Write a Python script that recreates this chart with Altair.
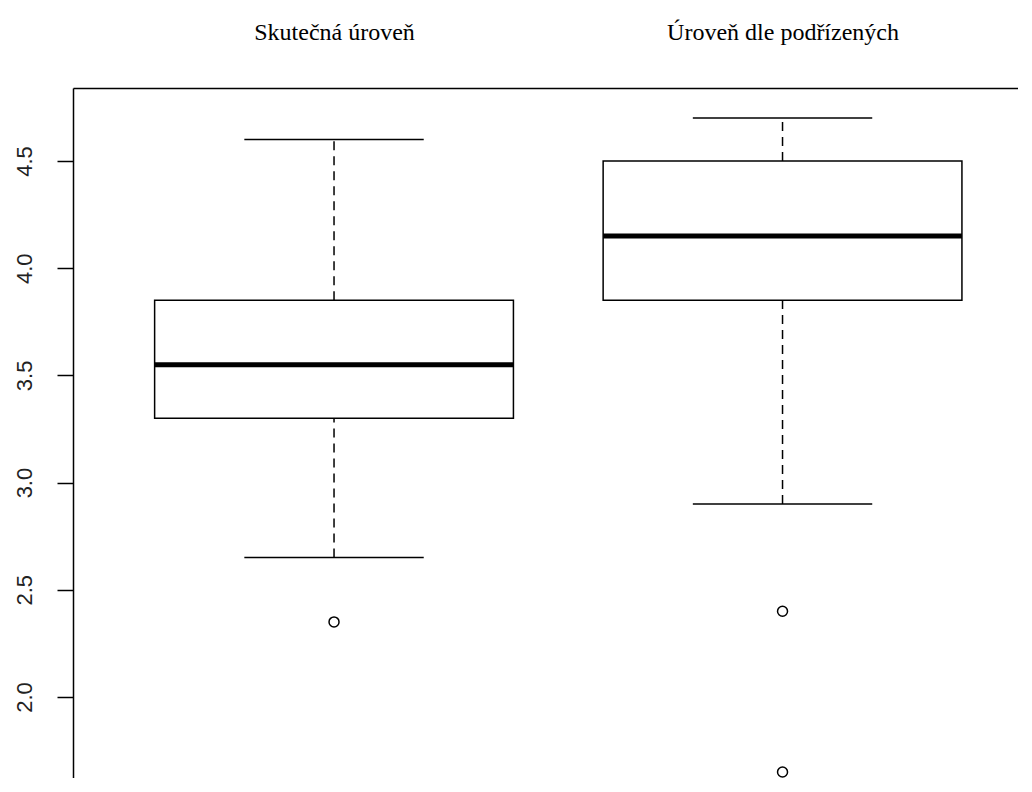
import altair as alt
import pandas as pd

# ---- data ----
groups = ["Skutečná úroveň", "Úroveň dle podřízených"]
positions = [1, 2]
lower_whisker = [2.65, 2.90]
q1 = [3.30, 3.85]
medians = [3.55, 4.15]
q3 = [3.85, 4.50]
upper_whisker = [4.60, 4.70]
outlier_pos = [1, 2, 2]
outlier_vals = [2.35, 2.40, 1.65]
y_ticks = [2.0, 2.5, 3.0, 3.5, 4.0, 4.5]

box_half = 0.4
cap_half = 0.2

df = pd.DataFrame({
    "group": groups,
    "pos": positions,
    "lo": lower_whisker,
    "q1": q1,
    "med": medians,
    "q3": q3,
    "hi": upper_whisker,
})
df["left"] = df["pos"] - box_half
df["right"] = df["pos"] + box_half
df["cleft"] = df["pos"] - cap_half
df["cright"] = df["pos"] + cap_half

out_df = pd.DataFrame({"pos": outlier_pos, "val": outlier_vals})

xs = alt.Scale(domain=[0.418, 2.525], nice=False, zero=False)
ys = alt.Scale(domain=[1.622, 4.8405], nice=False, zero=False)

label_expr = " : ".join(
    [f"datum.value == {p} ? '{g}'" for p, g in zip(positions[:-1], groups[:-1])]
    + [f"'{groups[-1]}'"]
)

x_axis = alt.Axis(
    orient="top", values=positions, labelExpr=label_expr, ticks=False,
    grid=False, domain=True, domainColor="black", domainWidth=1.5,
    labelFont="Liberation Serif", labelFontSize=24, labelColor="black",
    labelPadding=44, title=None, labelBaseline="bottom", labelLimit=0,
    labelOverlap=False,
)
y_axis = alt.Axis(
    values=y_ticks, format=".1f", tickSize=16, tickWidth=1.5, tickColor="black",
    domain=True, domainColor="black", domainWidth=1.5, grid=False,
    labelAngle=270, labelAlign="center", labelBaseline="bottom",
    labelFont="Liberation Sans", labelFontSize=22, labelColor="#222222",
    labelPadding=21, title=None, labelOverlap=False,
)


def X(field):
    return alt.X(field, type="quantitative", scale=xs, axis=x_axis, title=None)


def Y(field):
    return alt.Y(field, type="quantitative", scale=ys, axis=y_axis, title=None)


base = alt.Chart(df)

boxes = base.mark_rect(fill="white", stroke="black", strokeWidth=1.5).encode(
    x=X("left"), x2="right", y=Y("q1"), y2="q3",
)

med = base.mark_rule(color="black", strokeWidth=5).encode(
    x=X("left"), x2="right", y=Y("med"),
)

whisk_up = base.mark_rule(color="black", strokeWidth=1.5, strokeDash=[9, 6]).encode(
    x=X("pos"), y=Y("q3"), y2="hi",
)
whisk_lo = base.mark_rule(color="black", strokeWidth=1.5, strokeDash=[9, 6]).encode(
    x=X("pos"), y=Y("lo"), y2="q1",
)
cap_up = base.mark_rule(color="black", strokeWidth=1.5).encode(
    x=X("cleft"), x2="cright", y=Y("hi"),
)
cap_lo = base.mark_rule(color="black", strokeWidth=1.5).encode(
    x=X("cleft"), x2="cright", y=Y("lo"),
)

outliers = alt.Chart(out_df).mark_point(
    shape="circle", filled=False, color="black", size=100, strokeWidth=1.5, opacity=1
).encode(
    x=X("pos"), y=Y("val"),
)

chart = alt.layer(
    boxes, whisk_up, whisk_lo, cap_up, cap_lo, med, outliers
).properties(
    width=945,
    height=690,
    autosize=alt.AutoSizeParams(type="none"),
    padding={"left": 65, "top": 80, "right": 0, "bottom": 0},
    background="white",
).configure_view(stroke=None)

chart.save("out.html", embed_options={"renderer": "svg", "actions": False})
